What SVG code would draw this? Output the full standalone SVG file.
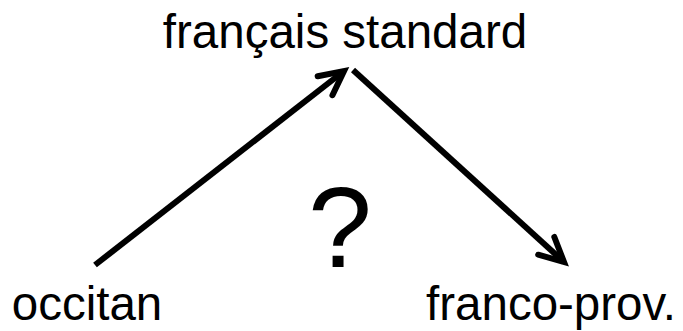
<svg xmlns="http://www.w3.org/2000/svg" width="683" height="331" viewBox="0 0 683 331">
<style>
text{font-family:"Liberation Sans",Arial,sans-serif;fill:#000;text-anchor:middle}
.lbl{font-size:47.5px}
.q{font-size:115px}
.edge{stroke:#000;stroke-width:6;fill:none}
</style>
<defs>
<marker id="ah" markerUnits="userSpaceOnUse" viewBox="-30 -16 34 32" refX="0" refY="0" markerWidth="34" markerHeight="32" orient="auto" overflow="visible">
<path d="M-24,-12 L0,0 L-24,12" fill="none" stroke="#000" stroke-width="6" stroke-linecap="round" stroke-linejoin="miter"/>
</marker>
</defs>
<rect width="683" height="331" fill="#fff"/>
<g id="connectors">
<line class="edge" x1="95" y1="265" x2="344" y2="71" marker-end="url(#ah)"/>
<line class="edge" x1="353" y1="70" x2="564" y2="262" marker-end="url(#ah)"/>
</g>
<g id="francais"><text class="lbl" x="345" y="48">français standard</text></g>
<g id="occitan"><text class="lbl" x="87" y="320">occitan</text></g>
<g id="francoprov"><text class="lbl" x="551" y="320">franco-prov.</text></g>
<g id="question"><text class="q" x="340" y="267">?</text></g>
</svg>
